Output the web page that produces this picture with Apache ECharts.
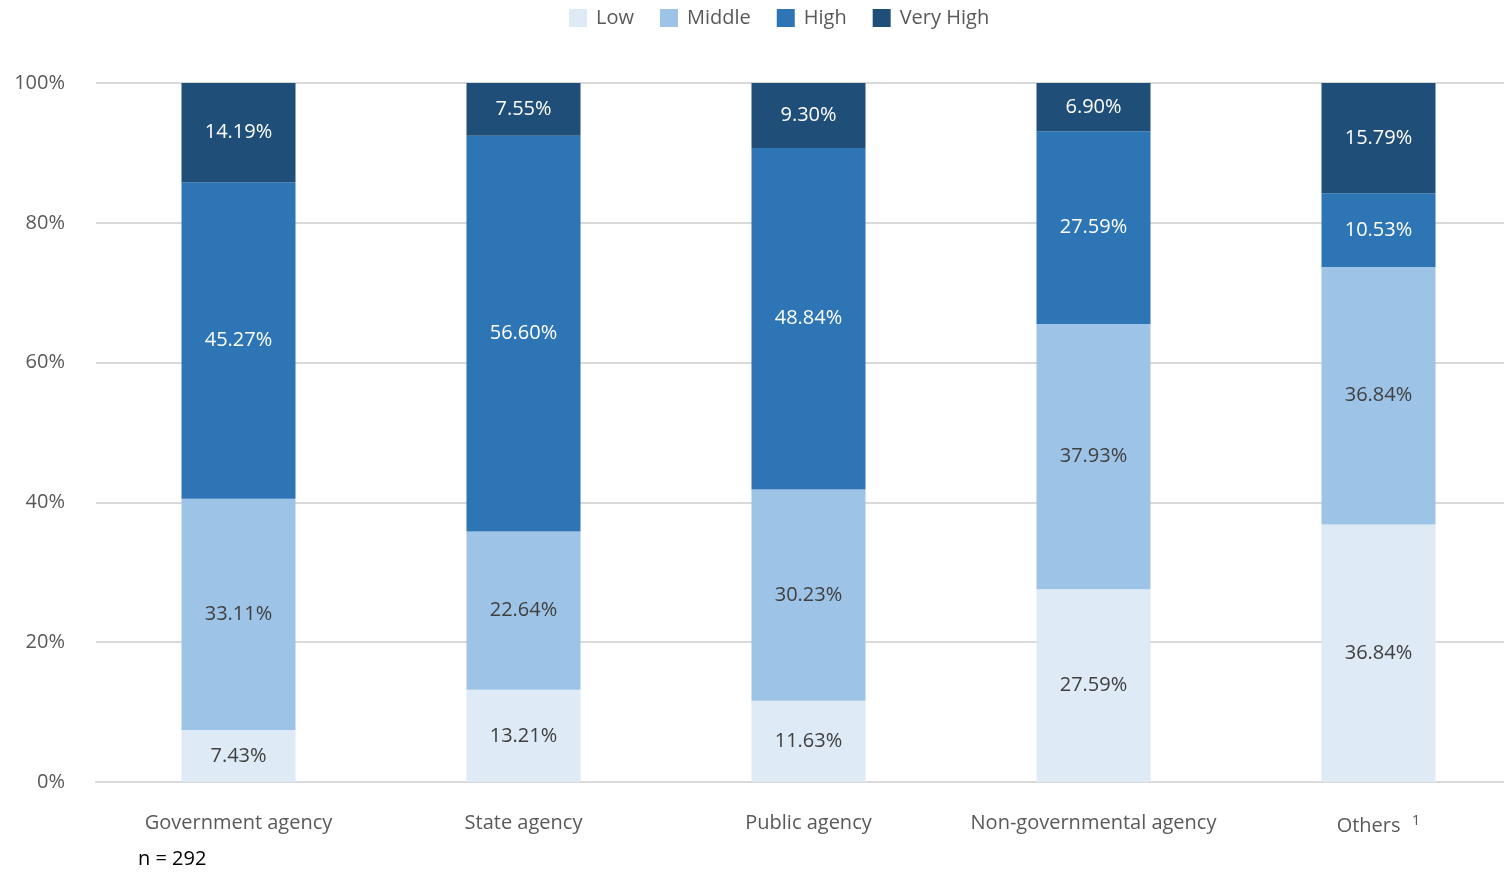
<!DOCTYPE html>
<html>
<head>
<meta charset="utf-8">
<script src="https://cdn.jsdelivr.net/npm/echarts@6/dist/echarts.min.js"></script>
<style>
  html, body { margin: 0; padding: 0; background: #ffffff; }
  #chart { width: 1504px; height: 872px; }
</style>
</head>
<body>
<div id="chart"></div>
<script>
// Agency types along the x axis
const categories = ['Government agency', 'State agency', 'Public agency', 'Non-governmental agency', 'Others'];

// Share of responses per level (percent of each agency group)
const lowValues      = [7.43, 13.21, 11.63, 27.59, 36.84];
const middleValues   = [33.11, 22.64, 30.23, 37.93, 36.84];
const highValues     = [45.27, 56.60, 48.84, 27.59, 10.53];
const veryHighValues = [14.19, 7.55, 9.30, 6.90, 15.79];

const yTicks = [0, 20, 40, 60, 80, 100];
const sampleNote = 'n = 292';

const FONT = '"Open Sans", "Noto Sans", sans-serif';

function makeSeries(name, data, color, labelColor) {
  return {
    name: name,
    type: 'bar',
    stack: 'total',
    barWidth: '40%',
    data: data,
    itemStyle: { color: color },
    label: {
      show: true,
      position: 'inside',
      color: labelColor,
      fontFamily: FONT,
      fontSize: 20,
      formatter: p => p.value.toFixed(2) + '%'
    },
    emphasis: { disabled: true }
  };
}

const chart = echarts.init(document.getElementById('chart'), null, { renderer: 'canvas' });

chart.setOption({
  animation: false,
  backgroundColor: '#ffffff',
  textStyle: { fontFamily: FONT },
  legend: {
    left: 564,
    top: 3,
    itemWidth: 18,
    itemHeight: 18,
    itemGap: 26,
    icon: 'rect',
    textStyle: { color: '#595959', fontSize: 20, fontFamily: FONT, padding: [0, 0, 0, 4] },
    data: ['Low', 'Middle', 'High', 'Very High']
  },
  // the plot runs a little past the right edge of the page
  grid: { left: 96, top: 83, right: -17, bottom: 90, containLabel: false, outerBoundsMode: 'none' },
  xAxis: {
    type: 'category',
    data: categories,
    axisTick: { show: false },
    axisLine: { lineStyle: { color: '#d9d9d9', width: 2 } },
    axisLabel: {
      color: '#595959',
      fontSize: 20,
      fontFamily: FONT,
      margin: 31,
      interval: 0,
      formatter: v => v === 'Others' ? 'Others {sup|1}' : v,
      rich: {
        sup: { fontSize: 15, color: '#595959', fontFamily: FONT, padding: [0, 0, 11, 6] }
      }
    }
  },
  yAxis: {
    type: 'value',
    min: yTicks[0],
    max: yTicks[yTicks.length - 1],
    interval: 20,
    axisLine: { show: false },
    axisTick: { show: false },
    splitLine: { lineStyle: { color: '#d9d9d9', width: 2 } },
    axisLabel: {
      color: '#595959',
      fontSize: 20,
      fontFamily: FONT,
      margin: 31,
      padding: [0, 0, 5, 0],
      formatter: v => v + '%'
    }
  },
  series: [
    makeSeries('Low', lowValues, '#deeaf6', '#404040'),
    makeSeries('Middle', middleValues, '#9dc3e6', '#404040'),
    makeSeries('High', highValues, '#2e75b6', '#ffffff'),
    makeSeries('Very High', veryHighValues, '#1f4e79', '#ffffff')
  ],
  graphic: [
    {
      type: 'text',
      left: 138,
      top: 849,
      style: { text: sampleNote, fill: '#000000', font: '20px ' + FONT }
    }
  ]
});
</script>
</body>
</html>
